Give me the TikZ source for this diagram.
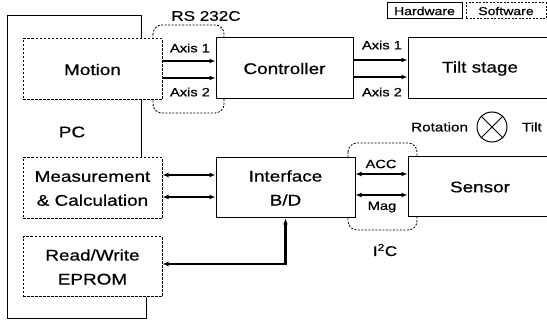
\documentclass[tikz,border=0pt]{standalone}
\usepackage{fontspec}
\setmainfont{Liberation Sans}[FakeStretch=1.22, FakeBold=0.6]
\usetikzlibrary{arrows.meta, positioning}

\begin{document}
\begin{tikzpicture}[x=1pt, y=-1pt,
    hw/.style={rectangle, draw, line width=1pt, fill=white, minimum width=139pt,
      minimum height=61pt, align=center, inner sep=0pt,
      font=\fontsize{15.5}{24}\selectfont},
    sw/.style={hw, dash pattern=on 2.5pt off 1.5pt},
    bus/.style={draw, line width=0.8pt, dash pattern=on 2pt off 1.5pt, rounded corners=9pt},
    link/.style={-{Latex[length=6pt,width=5pt]}, line width=2.2pt},
    both/.style={{Latex[length=6pt,width=5pt]}-{Latex[length=6pt,width=5pt]}, line width=2.2pt},
    lbl/.style={font=\fontsize{12}{14}\selectfont, inner sep=1pt},
    legend/.style={rectangle, draw, line width=1pt, minimum height=16pt, inner sep=0pt,
      font=\fontsize{11.5}{13}\selectfont}
  ]
    \useasboundingbox (0,0) rectangle (547,323);
    \clip (0,0) rectangle (547,323);

    % PC frame and bus brackets (behind the boxes)
    \draw[line width=1pt] (141,158) -- (141,16) -- (7,16) -- (7,319) -- (146,319) -- (146,297);
    \draw[bus] (153,25) rectangle (224,113);
    \draw[bus] (348,143) rectangle (417,230);

    \node[sw] (motion) at (92.5,69.5) {Motion};
    \node[sw] (meas) at (92.5,188.5) {Measurement\\\& Calculation};
    \node[sw, minimum height=60pt] (eprom) at (92.5,267) {Read/Write\\EPROM};
    \node[font=\fontsize{15.5}{18}\selectfont] (pc) at (72,132) {PC};

    \node[hw, minimum width=137pt] (ctrl) at (284.5,68.5) {Controller};
    \node[hw, minimum width=144pt] (tilt) at (480,68.5) {Tilt stage};
    \node[hw, minimum height=60pt] (iface) at (285.5,188) {Interface\\B/D};
    \node[hw, minimum width=144pt, minimum height=60pt] (sensor) at (480,187) {Sensor};

    \draw[link] (motion.east |- 0,61) -- (ctrl.west |- 0,61);
    \draw[link] (motion.east |- 0,78) -- (ctrl.west |- 0,78);
    \draw[link] (ctrl.east |- 0,60) -- (tilt.west |- 0,60);
    \draw[link] (ctrl.east |- 0,77) -- (tilt.west |- 0,77);
    \draw[both] (meas.east |- 0,175) -- (iface.west |- 0,175);
    \draw[both] (meas.east |- 0,197) -- (iface.west |- 0,197);
    \draw[both] (iface.east |- 0,174) -- (sensor.west |- 0,174);
    \draw[both] (iface.east |- 0,195) -- (sensor.west |- 0,195);
    \draw[both] (eprom.east |- 0,264) -| (iface.south);

    \node[lbl] (ax1a) at (190,48) {Axis 1};
    \node[lbl] (ax2a) at (190,92) {Axis 2};
    \node[lbl] (ax1b) at (382,45) {Axis 1};
    \node[lbl] (ax2b) at (382,92) {Axis 2};
    \node[lbl] (acc) at (381,164) {ACC};
    \node[lbl] (mag) at (382,207) {Mag};
    \node[font=\fontsize{14}{16}\selectfont] (rs) at (206,16) {RS 232C};
    \node[font=\fontsize{14}{16}\selectfont] (iic) at (385,250) {I\textsuperscript{2}C};

    % legend
    \node[legend, minimum width=75pt] (hwkey) at (424.5,11) {Hardware};
    \node[legend, minimum width=80pt, dash pattern=on 2pt off 1.5pt] (swkey) at (506,11) {Software};

    % rotation axis
    \node[circle, draw, line width=1pt, minimum size=30pt, inner sep=0pt] (rot) at (492,127) {};
    \draw[line width=1pt] (rot.north west) -- (rot.south east);
    \draw[line width=1pt] (rot.north east) -- (rot.south west);
    \node[font=\fontsize{12.5}{14}\selectfont, left=5pt of rot] (rotl) {Rotation};
    \node[font=\fontsize{12.5}{14}\selectfont, right=11pt of rot] (tiltl) {Tilt};
  \end{tikzpicture}
\end{document}
